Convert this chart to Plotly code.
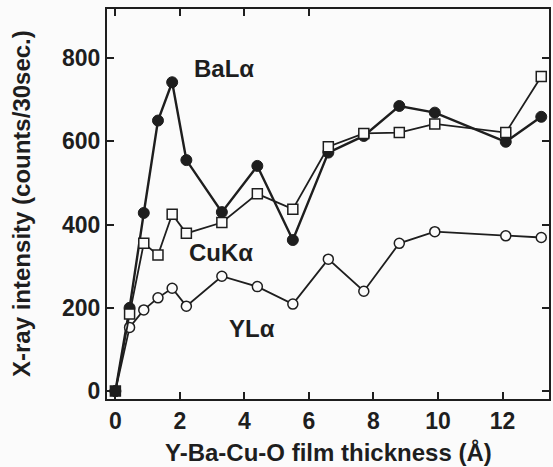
import plotly.graph_objects as go

# Data (thickness in Å, counts/30 sec)
thickness = [0, 0.44, 0.88, 1.32, 1.76, 2.2, 3.3, 4.4, 5.5, 6.6, 7.7, 8.8, 9.9, 12.1, 13.2]
ba_la = [0, 200, 428, 650, 742, 555, 430, 541, 363, 573, 613, 685, 669, 599, 659]
cu_ka = [0, 185, 355, 327, 425, 379, 405, 474, 437, 587, 619, 621, 642, 621, 756]
y_la = [0, 153, 195, 224, 247, 204, 276, 251, 209, 317, 240, 355, 383, 373, 369]

x_ticks = [0, 2, 4, 6, 8, 10, 12]
x_top_ticks = [0, 2, 4, 6]
y_ticks = [0, 200, 400, 600, 800]

labels = ["BaLα", "CuKα", "YLα"]
label_x = [3.38, 3.26, 4.23]
label_y = [776, 332, 151]

BG = "#fbfbfb"
INK = "#1e1e1e"
FONT = "Liberation Sans"

fig = go.Figure()

fig.add_trace(go.Scatter(
    x=thickness, y=ba_la, mode="lines+markers", name="BaLα",
    line=dict(color=INK, width=2.4),
    marker=dict(symbol="circle", size=11, color=INK, line=dict(color=INK, width=1)),
))
fig.add_trace(go.Scatter(
    x=thickness, y=y_la, mode="lines+markers", name="YLα",
    line=dict(color=INK, width=1.8),
    marker=dict(symbol="circle", size=10, color=BG, line=dict(color=INK, width=1.5)),
))
cu_fill = [INK if i == 0 else BG for i in range(len(cu_ka))]
fig.add_trace(go.Scatter(
    x=thickness, y=cu_ka, mode="lines+markers", name="CuKα",
    line=dict(color=INK, width=1.8),
    marker=dict(symbol="square", size=10, color=cu_fill, line=dict(color=INK, width=1.5)),
))
# helper trace for top axis ticks
fig.add_trace(go.Scatter(x=[], y=[], xaxis="x2", showlegend=False, hoverinfo="skip"))

for t, lx, ly in zip(labels, label_x, label_y):
    fig.add_annotation(x=lx, y=ly, text=t, showarrow=False,
                       font=dict(family=FONT, size=24, color=INK, weight="bold"))

fig.add_annotation(xref="paper", yref="paper", x=0.5, y=0, yshift=-53,
                   xanchor="center", yanchor="middle",
                   text="Y-Ba-Cu-O film thickness (Å)", showarrow=False,
                   font=dict(family=FONT, size=24, color=INK, weight="bold"))
fig.add_annotation(xref="paper", yref="paper", x=0, xshift=-86, y=0.5,
                   xanchor="center", yanchor="middle",
                   text="X-ray intensity (counts/30sec.)", textangle=-90, showarrow=False,
                   font=dict(family=FONT, size=24, color=INK, weight="bold"))

axis_common = dict(showline=True, linecolor=INK, linewidth=2, showgrid=False,
                   zeroline=False, ticks="inside", ticklen=7, tickwidth=2, tickcolor=INK,
                   tickfont=dict(family=FONT, size=23, color=INK, weight="bold"))

fig.update_layout(
    width=553, height=467,
    margin=dict(l=107, r=2, t=9, b=68),
    paper_bgcolor=BG, plot_bgcolor=BG,
    showlegend=False,
    xaxis=dict(range=[-0.26, 13.44], tickvals=x_ticks, mirror=True, **axis_common),
    xaxis2=dict(range=[-0.26, 13.44], overlaying="x", side="top", tickvals=x_top_ticks,
                showticklabels=False, showline=False, showgrid=False, zeroline=False,
                ticks="inside", ticklen=7, tickwidth=2, tickcolor=INK),
    yaxis=dict(range=[-19, 918], tickvals=y_ticks, mirror="ticks", **axis_common),
)

fig.write_html("out.html")
